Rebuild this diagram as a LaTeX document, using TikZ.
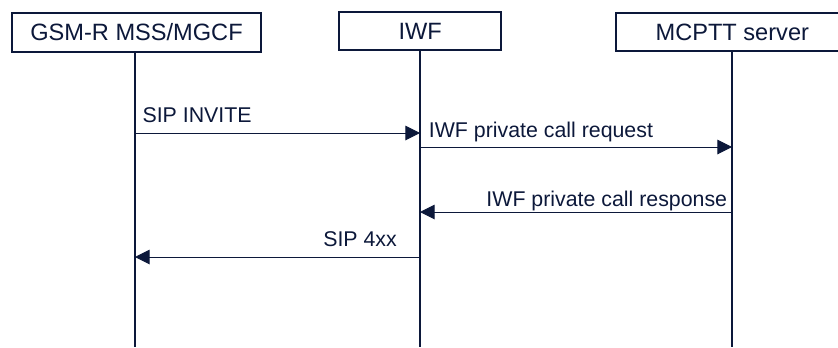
\documentclass[tikz,border=0pt]{standalone}
\usepackage{fontspec}
\setmainfont{Liberation Sans}
\usetikzlibrary{arrows.meta}
\definecolor{navy}{RGB}{12,24,58}
\tikzset{
    entity/.style={
            draw=navy, line width=1.5pt, fill=white, inner sep=0pt,
            text=navy, font=\fontsize{17.7}{20}\selectfont
        },
    lifeline/.style={draw=navy, line width=1.5pt},
    msg/.style={
            draw=navy, line width=0.75pt,
            -{Triangle[length=11pt, width=11pt]}
        },
    msglabel/.style={inner sep=0pt, text=navy, font=\fontsize{16}{18}\selectfont},
}

\begin{document}
\begin{tikzpicture}[x=0.75pt, y=-0.75pt]
        \useasboundingbox (0, 0) rectangle (838, 347);
        %ends of lifelines and message rows
        \coordinate (mssEnd) at (135, 347);
        \coordinate (iwfEnd) at (420, 347);
        \coordinate (mcpttEnd) at (732, 347);
        \coordinate (t1) at (0, 133);
        \coordinate (t2) at (0, 147);
        \coordinate (t3) at (0, 212);
        \coordinate (t4) at (0, 257);
        %draw entities
        \node[entity, minimum width=186.75pt, minimum height=29.25pt] (mss) at (136.5, 32.2) {GSM-R MSS/MGCF};
        \node[entity, minimum width=121.3pt, minimum height=28.7pt] (iwf) at (420.2, 30.9) {IWF};
        \node[entity, minimum width=174.5pt, minimum height=28pt] (mcptt) at (732.3, 32) {MCPTT server};
        %draw lifelines
        \draw[lifeline] (mss.south -| mssEnd) -- (mssEnd);
        \draw[lifeline] (iwf.south -| iwfEnd) -- (iwfEnd);
        \draw[lifeline] (mcptt.south -| mcpttEnd) -- (mcpttEnd);
        %draw messages
        \draw[msg] (mssEnd |- t1) -- (iwfEnd |- t1)
            node[msglabel, pos=0, anchor=base west, xshift=5.3pt, yshift=7.7pt] (invite) {SIP INVITE};
        \draw[msg] (iwfEnd |- t2) -- (mcpttEnd |- t2)
            node[msglabel, pos=0, anchor=base west, xshift=6.3pt, yshift=7pt] (request) {IWF private call request};
        \draw[msg] (mcpttEnd |- t3) -- (iwfEnd |- t3)
            node[msglabel, pos=0, anchor=base east, xshift=-3.3pt, yshift=4.5pt] (response) {IWF private call response};
        \draw[msg] (iwfEnd |- t4) -- (mssEnd |- t4)
            node[msglabel, pos=0, anchor=base east, xshift=-17pt, yshift=8.2pt] (reject) {SIP 4xx};
    \end{tikzpicture}
\end{document}
